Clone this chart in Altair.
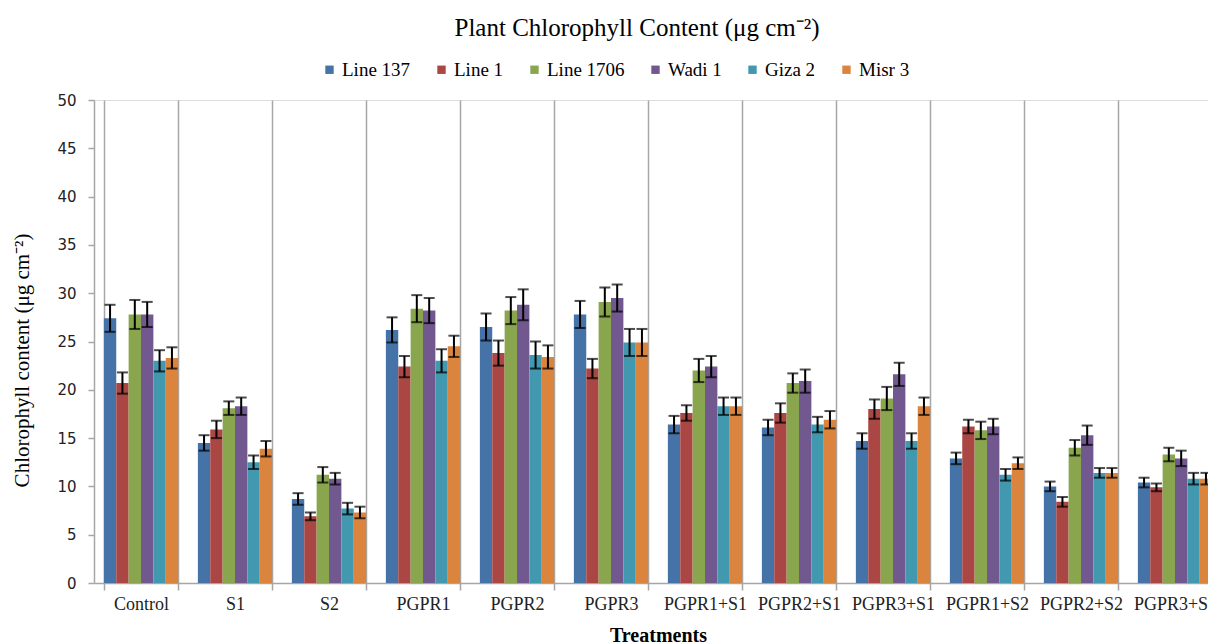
import altair as alt
import pandas as pd

treatments = ["Control", "S1", "S2", "PGPR1", "PGPR2", "PGPR3",
              "PGPR1+S1", "PGPR2+S1", "PGPR3+S1", "PGPR1+S2", "PGPR2+S2", "PGPR3+S2"]
varieties = ["Line 137", "Line 1", "Line 1706", "Wadi 1", "Giza 2", "Misr 3"]
colors = ["#4572A7", "#AA4643", "#89A54E", "#71588F", "#4198AF", "#DB843D"]

# mean values per treatment (order of varieties)
means = {
    "Control":  [27.4, 20.7, 27.8, 27.8, 23.0, 23.3],
    "S1":       [14.5, 15.9, 18.1, 18.3, 12.5, 13.9],
    "S2":       [8.7, 6.9, 11.2, 10.8, 7.7, 7.3],
    "PGPR1":    [26.2, 22.4, 28.4, 28.2, 23.0, 24.5],
    "PGPR2":    [26.5, 23.8, 28.2, 28.8, 23.6, 23.4],
    "PGPR3":    [27.8, 22.2, 29.1, 29.5, 24.9, 24.9],
    "PGPR1+S1": [16.4, 17.6, 22.0, 22.4, 18.3, 18.3],
    "PGPR2+S1": [16.1, 17.6, 20.7, 20.9, 16.4, 16.9],
    "PGPR3+S1": [14.7, 18.0, 19.1, 21.6, 14.7, 18.3],
    "PGPR1+S2": [12.9, 16.2, 15.8, 16.2, 11.2, 12.4],
    "PGPR2+S2": [10.0, 8.4, 14.0, 15.3, 11.4, 11.4],
    "PGPR3+S2": [10.4, 9.9, 13.3, 12.9, 10.8, 10.8],
}
errors = {
    "Control":  [1.4, 1.1, 1.5, 1.3, 1.1, 1.1],
    "S1":       [0.8, 0.9, 0.7, 0.9, 0.7, 0.8],
    "S2":       [0.6, 0.4, 0.8, 0.6, 0.6, 0.6],
    "PGPR1":    [1.3, 1.1, 1.4, 1.3, 1.2, 1.1],
    "PGPR2":    [1.4, 1.3, 1.4, 1.6, 1.4, 1.2],
    "PGPR3":    [1.4, 1.0, 1.5, 1.4, 1.4, 1.4],
    "PGPR1+S1": [0.9, 0.8, 1.2, 1.1, 0.9, 0.9],
    "PGPR2+S1": [0.8, 1.0, 1.0, 1.2, 0.8, 0.9],
    "PGPR3+S1": [0.8, 1.0, 1.2, 1.2, 0.8, 0.9],
    "PGPR1+S2": [0.6, 0.7, 0.9, 0.8, 0.6, 0.6],
    "PGPR2+S2": [0.5, 0.5, 0.8, 1.0, 0.5, 0.5],
    "PGPR3+S2": [0.5, 0.4, 0.7, 0.8, 0.6, 0.6],
}

rows = []
for t in treatments:
    for v, m, e in zip(varieties, means[t], errors[t]):
        rows.append({"Treatment": t, "Variety": v, "Value": m,
                     "Lo": m - e, "Hi": m + e})
df = pd.DataFrame(rows)

SERIF = "Liberation Serif"

x_scale = alt.Scale(paddingInner=0.21, paddingOuter=0.105, range=[0, 1128])

x_enc = alt.X("Treatment:N", sort=treatments, scale=x_scale,
              axis=alt.Axis(title="Treatments", tickBand="extent", grid=True,
                            gridColor="#A6A6A6", gridWidth=1.5,
                            domainColor="#A6A6A6", domainWidth=1.5,
                            tickColor="#A6A6A6", tickWidth=1.5, tickSize=7,
                            labelAngle=0, labelFont=SERIF, labelFontSize=18,
                            labelColor="#222222", labelPadding=5, labelLimit=200,
                            titleFont=SERIF, titleFontSize=20, titleFontWeight="bold",
                            titleColor="#000000", titleX=564, titleY=52,
                            titleBaseline="middle"))
xo_enc = alt.XOffset("Variety:N", sort=varieties,
                     scale=alt.Scale(paddingInner=0, paddingOuter=0))

y_scale = alt.Scale(domain=[0, 50], nice=False)

bars = alt.Chart(df).mark_bar().encode(
    x=x_enc,
    xOffset=xo_enc,
    y=alt.Y("Value:Q", scale=y_scale,
            axis=alt.Axis(title="Chlorophyll content (μg cm⁻²)", values=list(range(0, 55, 5)),
                          grid=False, domainColor="#A6A6A6", domainWidth=1.5,
                          tickColor="#A6A6A6", tickWidth=1.5, tickSize=6,
                          labelFont="DejaVu Sans", labelFontSize=15, labelColor="#222222",
                          labelPadding=12,
                          titleFont=SERIF, titleFontSize=21, titleFontWeight="normal",
                          titleColor="#000000", titleX=-72, titleY=260,
                          titleAlign="center", titleBaseline="middle")),
    color=alt.Color("Variety:N", sort=varieties,
                    scale=alt.Scale(domain=varieties, range=colors),
                    legend=alt.Legend(title=None, orient="none", direction="horizontal",
                                      legendX=226, legendY=-40,
                                      symbolType="square", symbolSize=70,
                                      symbolStrokeWidth=0, labelFont=SERIF,
                                      labelFontSize=19, labelColor="#000000",
                                      labelOffset=3, columnPadding=21)),
)

rules = alt.Chart(df).mark_rule(color="black", strokeWidth=2).encode(
    x=alt.X("Treatment:N", sort=treatments, scale=x_scale),
    xOffset=xo_enc,
    y=alt.Y("Lo:Q", scale=y_scale),
    y2="Hi:Q",
)

caps_lo = alt.Chart(df).mark_tick(color="black", thickness=2, size=11, orient="horizontal").encode(
    x=alt.X("Treatment:N", sort=treatments, scale=x_scale),
    xOffset=xo_enc,
    y=alt.Y("Lo:Q", scale=y_scale),
)
caps_hi = alt.Chart(df).mark_tick(color="black", thickness=2, size=11, orient="horizontal").encode(
    x=alt.X("Treatment:N", sort=treatments, scale=x_scale),
    xOffset=xo_enc,
    y=alt.Y("Hi:Q", scale=y_scale),
)

chart = alt.layer(bars, rules, caps_lo, caps_hi).properties(
    width=1114,
    height=483,
    title=alt.TitleParams("Plant Chlorophyll Content (μg cm⁻²)", font=SERIF, fontSize=25,
                          fontWeight="normal", color="#000000", anchor="middle",
                          dx=-14, dy=-15),
    autosize=alt.AutoSizeParams(type="none"),
    padding={"left": 94, "top": 100, "right": 0, "bottom": 61},
).configure_view(stroke=None).configure(background="white")

chart.save("out.html", embed_options={"renderer": "svg", "actions": False})
